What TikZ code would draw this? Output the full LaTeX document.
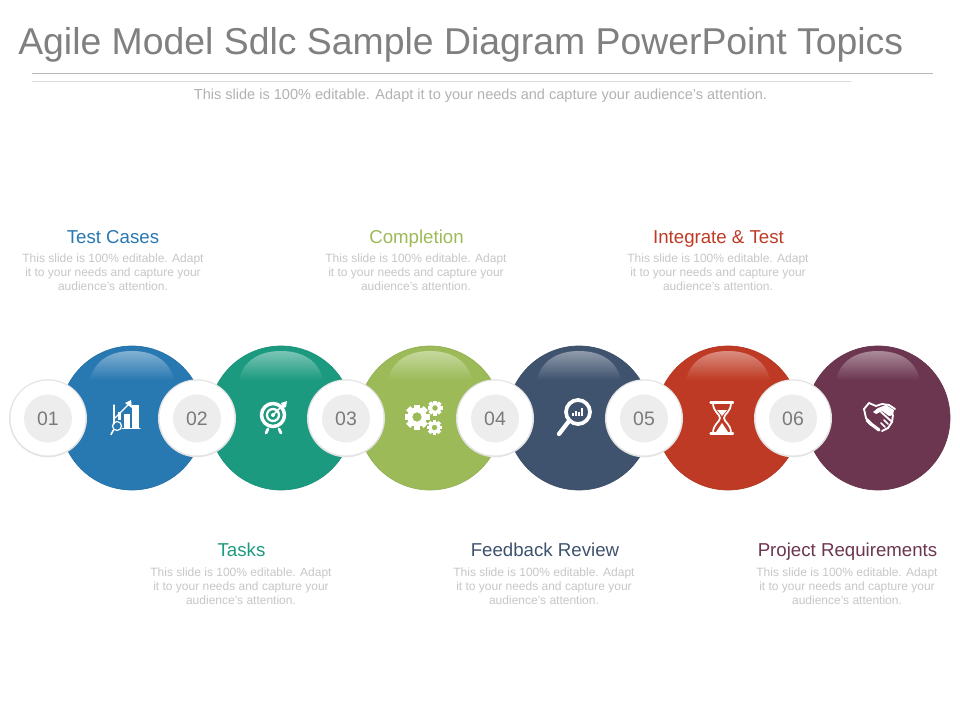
\documentclass[tikz,border=0pt]{standalone}
\usepackage{fontspec}
\setmainfont{Liberation Sans}
\definecolor{cblue}{HTML}{2878B2}
\definecolor{cteal}{HTML}{1C9A80}
\definecolor{cgreen}{HTML}{9CBB58}
\definecolor{cnavy}{HTML}{3F526E}
\definecolor{cred}{HTML}{BF3A24}
\definecolor{cplum}{HTML}{6C3650}
\newcommand{\fsz}[1]{\fontsize{#1}{#1}\selectfont}
\tikzset{
  x=0.75pt,y=-0.75pt,
  bigdisc/.style={circle,minimum size=144*0.75pt,inner sep=0pt,fill=#1,draw=#1!94!black,line width=0.5pt},
  ringshade/.style={circle,minimum size=78*0.75pt,inner sep=0pt,fill=black!11},
  ring/.style={circle,minimum size=75*0.75pt,inner sep=0pt,fill=white},
  numdisc/.style={circle,minimum size=48*0.75pt,inner sep=0pt,fill=black!7,text=black!52,font=\fsz{14.6}},
  headtext/.style={font=\fsz{14},text=#1,inner sep=0pt,anchor=base},
  bodytext/.style={font=\fontsize{9}{10.5}\selectfont,text=black!22,align=center,inner sep=0pt},
  icon/.style={draw=white,line width=#1,line cap=round,line join=round},
}
\newcommand{\gloss}[2]{%
  \shade[top color=#2!58!white,bottom color=#2]
    ({#1-42},380) .. controls ({#1-38},361) and ({#1-22},351) .. (#1,351)
    .. controls ({#1+22},351) and ({#1+38},361) .. ({#1+42},380) -- cycle;}
\newcommand{\gearic}[4]{% x y radius teeth
  \begin{scope}[shift={(#1,#2)}]
    \foreach \a in {1,...,#4}{
      \fill[white,rotate=\a*360/#4] (-0.24*#3,-0.6*#3) rectangle (0.24*#3,-#3);}
    \fill[white,even odd rule] (0,0) circle[radius=0.78*#3] (0,0) circle[radius=0.38*#3];
  \end{scope}}
\begin{document}
\begin{tikzpicture}
\useasboundingbox[fill=white] (0,0) rectangle (960,720);
\node[anchor=base west,inner sep=0pt,font=\fsz{28.03},text=black!50] (title) at (18,54.5) {Agile Model Sdlc Sample Diagram PowerPoint Topics};
\coordinate (r1a) at (32,73); \coordinate (r1b) at (933,73);
\coordinate (r2a) at (32,81); \coordinate (r2b) at (851,81);
\draw[black!28,line width=0.6pt] (r1a) -- (r1b);
\draw[black!15,line width=0.6pt] (r2a) -- (r2b);
\node[inner sep=0pt,font=\fsz{10.9},text=black!30,anchor=base] (sub) at (480.5,100) {This slide is 100\% editable. Adapt it to your needs and capture your audience's attention.};

% big discs
\node[bigdisc=cblue] (b1) at (132,418) {}; \gloss{132}{cblue}
\node[bigdisc=cteal] (b2) at (281,418) {}; \gloss{281}{cteal}
\node[bigdisc=cgreen] (b3) at (430,418) {}; \gloss{430}{cgreen}
\node[bigdisc=cnavy] (b4) at (579,418) {}; \gloss{579}{cnavy}
\node[bigdisc=cred] (b5) at (728,418) {}; \gloss{728}{cred}
\node[bigdisc=cplum] (b6) at (878,418) {}; \gloss{878}{cplum}

% numbered rings
\foreach \n/\x/\t in {r1/48/01,r2/197/02,r3/346/03,r4/495/04,r5/644/05,r6/793/06}{
  \node[ringshade] (\n s) at (\x,418.3) {};
  \node[ring] (\n) at (\x,418) {};
  \node[numdisc] (\n n) at (\x,418.5) {\t};
}

% icon 1: chart with magnifier
\draw[icon=0.9pt] (114,405) -- (114,424);
\draw[icon=0.9pt] (115,418) -- (130,403);
\fill[white] (131,400) -- (132,408) -- (125,403) -- cycle;
\fill[white] (118,412) rectangle (121,420);
\fill[white] (124,414) rectangle (130,428);
\fill[white] (132,405) rectangle (139,428);
\draw[icon=0.9pt] (122,428.5) -- (140,428.5);
\draw[icon=0.9pt] (117,426) circle[radius=4.5];
\draw[icon=1.2pt] (113.5,430) -- (111,434.5);

% icon 2: target
\draw[icon=2.6pt] (273,415) circle[radius=11.5];
\draw[icon=1.7pt] (273,415) circle[radius=6];
\fill[white] (273,415) circle[radius=2];
\draw[icon=1.1pt] (273,415) -- (284,404);
\fill[white] (281,403) -- (287,401) -- (286,407) -- (283,408) -- cycle;
\draw[icon=2.1pt] (268,429) -- (266,433);
\draw[icon=2.1pt] (279,429) -- (281,433);

% icon 3: gears
\gearic{417}{417}{12.5}{8}
\gearic{435}{408}{7.5}{8}
\gearic{434.5}{427.5}{7.5}{8}

% icon 4: magnifier with bars
\draw[icon=2.8pt] (578,412) circle[radius=12];
\draw[icon=3.2pt] (569,421) -- (559,434);
\fill[white] (572,413) rectangle (574,416);
\fill[white] (575,411) rectangle (577,416);
\fill[white] (578,412) rectangle (580,416);
\fill[white] (581,408) rectangle (583,416);

% icon 5: hourglass
\draw[icon=1.7pt] (710.5,402.5) -- (733,402.5);
\draw[icon=1.7pt] (710.5,433.5) -- (733,433.5);
\draw[icon=1.3pt] (713,403) .. controls (713,412) and (720,414) .. (720,418)
   .. controls (720,422) and (713,424) .. (713,433);
\draw[icon=1.3pt] (731,403) .. controls (731,412) and (724,414) .. (724,418)
   .. controls (724,422) and (731,424) .. (731,433);
\fill[white] (717,410) -- (727,410) -- (722,416) -- cycle;
\fill[white] (722,423) -- (728,432) -- (716,432) -- cycle;

% icon 6: handshake
\draw[icon=1.4pt] (864,409) -- (869,403) -- (876,406) -- (882,404) -- (889,405) -- (895,409);
\draw[icon=1.4pt] (864,409) -- (866,418) -- (871,425);
\fill[white] (878,408) -- (886,405) -- (894,410) -- (893,415) -- (889,416) -- (882,411) -- (876,414) -- (873,412) -- cycle;
\draw[icon=2.4pt] (867,420) -- (871,424) -- (875,427) -- (879,430);
\draw[icon=1.4pt] (881,412) -- (891,421);
\draw[icon=1.4pt] (893,415) -- (892,422) -- (888,428) -- (882,431);
\draw[icon=1.1pt] (884,420) -- (888,424);
\draw[icon=1.1pt] (881,423) -- (885,427);

% captions
\newcommand{\bodylines}{This slide is 100\% editable. Adapt\\it to your needs and capture your\\audience's attention.}
\node[headtext=cblue] (h1) at (113,243.5) {Test Cases};
\node[bodytext] (t1) at (113,272.5) {\bodylines};
\node[headtext=cgreen] (h3) at (416.5,243.5) {Completion};
\node[bodytext] (t3) at (416,272.5) {\bodylines};
\node[headtext=cred] (h5) at (718.5,243.5) {Integrate \& Test};
\node[bodytext] (t5) at (718,272.5) {\bodylines};
\node[headtext=cteal] (h2) at (241.5,556.5) {Tasks};
\node[bodytext] (t2) at (241,586.5) {\bodylines};
\node[headtext=cnavy] (h4) at (545,556.5) {Feedback Review};
\node[bodytext] (t4) at (544,586.5) {\bodylines};
\node[headtext=cplum] (h6) at (847.5,556.5) {Project Requirements};
\node[bodytext] (t6) at (847,586.5) {\bodylines};
\end{tikzpicture}
\end{document}
